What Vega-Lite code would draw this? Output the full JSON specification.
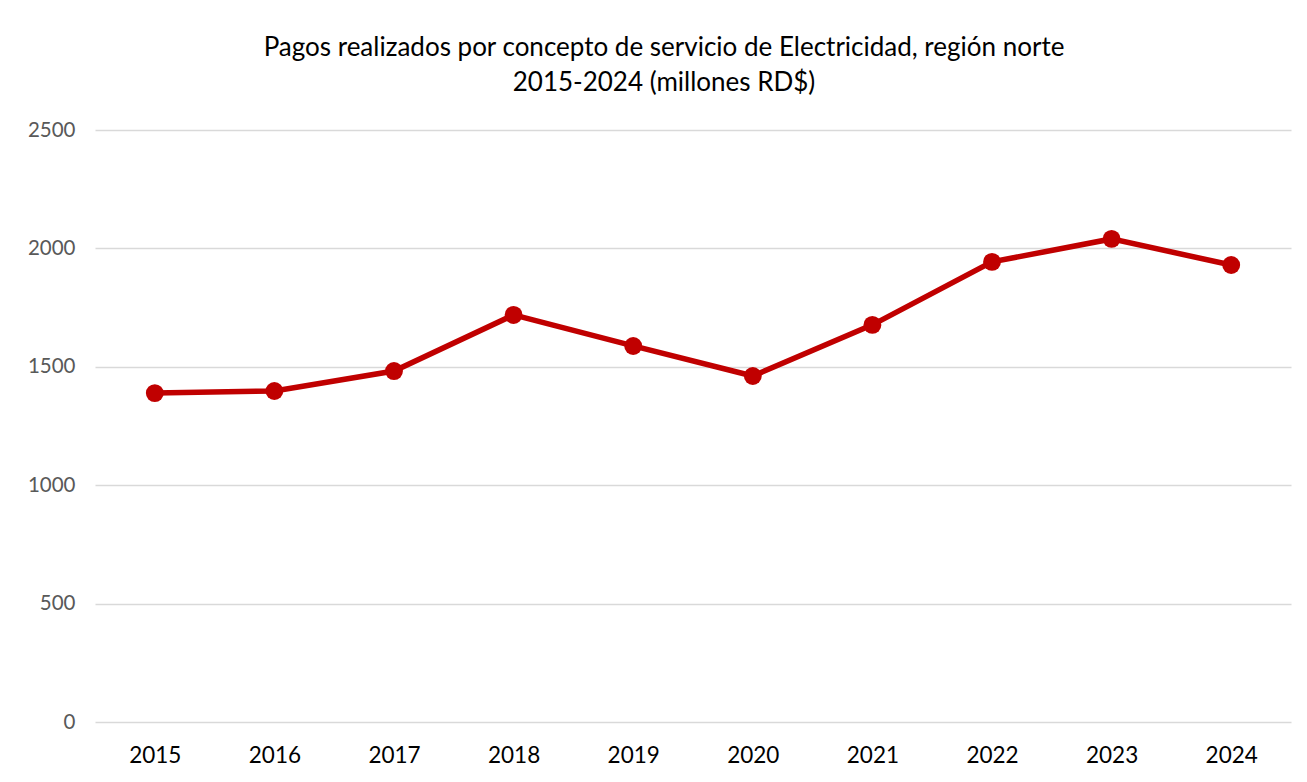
{
  "$schema": "https://vega.github.io/schema/vega-lite/v6.json",
  "autosize": {"type": "none"},
  "padding": {"left": 95, "top": 130, "right": 16, "bottom": 60},
  "width": 1196,
  "height": 592,
  "background": "white",
  "title": {
    "text": ["Pagos realizados por concepto de servicio de Electricidad, región norte", "2015-2024 (millones RD$)"],
    "anchor": "middle",
    "dx": -29,
    "font": "Lato",
    "fontSize": 26,
    "fontWeight": "normal",
    "color": "#000000",
    "lineHeight": 35,
    "offset": 24
  },
  "config": {
    "view": {"stroke": null},
    "font": "Lato"
  },
  "data": {
    "values": [
      {"year": "2015", "value": 1389},
      {"year": "2016", "value": 1398},
      {"year": "2017", "value": 1482},
      {"year": "2018", "value": 1719},
      {"year": "2019", "value": 1588},
      {"year": "2020", "value": 1461},
      {"year": "2021", "value": 1677},
      {"year": "2022", "value": 1943},
      {"year": "2023", "value": 2040},
      {"year": "2024", "value": 1930}
    ]
  },
  "mark": {
    "type": "line",
    "color": "#C00000",
    "strokeWidth": 5.5,
    "point": {"filled": true, "size": 320, "color": "#C00000", "opacity": 1}
  },
  "encoding": {
    "x": {
      "field": "year",
      "type": "ordinal",
      "scale": {"padding": 0.5},
      "axis": {
        "title": null,
        "labelAngle": 0,
        "domain": false,
        "ticks": false,
        "grid": false,
        "labelFont": "Lato",
        "labelFontSize": 22.5,
        "labelColor": "#000000",
        "labelPadding": 22
      }
    },
    "y": {
      "field": "value",
      "type": "quantitative",
      "scale": {"domain": [0, 2500], "nice": false},
      "axis": {
        "title": null,
        "format": "d",
        "values": [0, 500, 1000, 1500, 2000, 2500],
        "domain": false,
        "ticks": false,
        "grid": true,
        "gridColor": "#D9D9D9",
        "gridWidth": 1.5,
        "labelFont": "Lato",
        "labelFontSize": 20.5,
        "labelColor": "#595959",
        "labelPadding": 20
      }
    }
  }
}
